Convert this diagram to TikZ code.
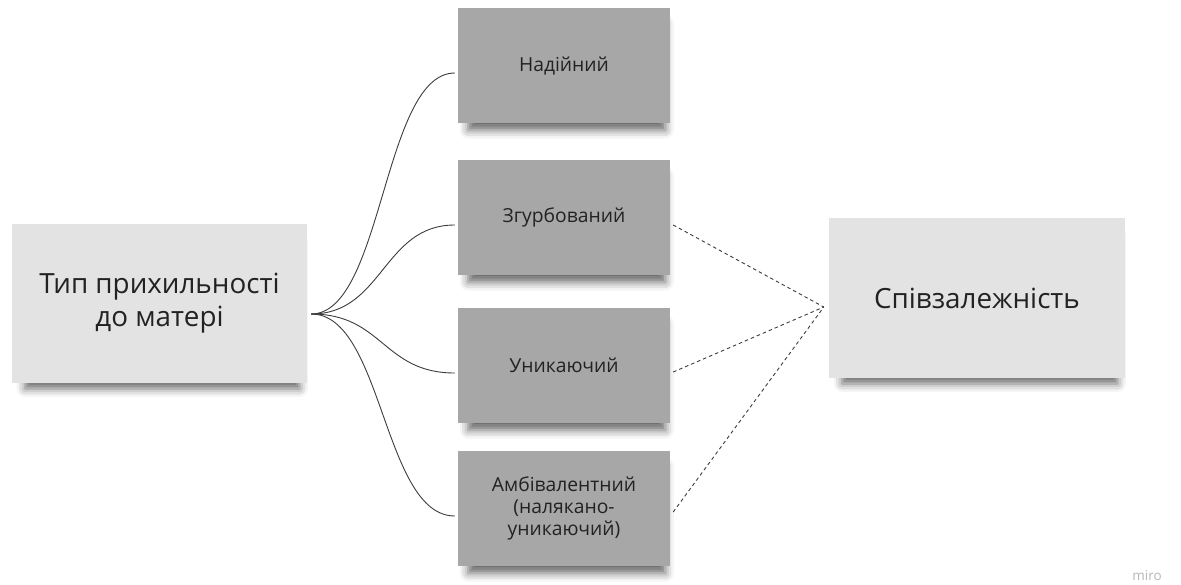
\documentclass[tikz,border=0pt]{standalone}
\usepackage{fontspec}
\setmainfont{Open Sans}
\usetikzlibrary{calc,shadows.blur}
\definecolor{boxlight}{HTML}{E3E3E3}
\definecolor{boxdark}{HTML}{A7A7A7}
\definecolor{textdark}{HTML}{222222}
\definecolor{linegray}{HTML}{3C3C3C}
\definecolor{mirogray}{HTML}{B8B8B8}
\begin{document}
\begin{tikzpicture}[x=1pt,y=-1pt,
  card/.style={rectangle, inner sep=0pt, align=center, text=textdark,
    blur shadow={shadow xshift=3pt, shadow yshift=-12pt, shadow blur radius=9pt, shadow opacity=60, shadow scale=0.93}},
  bigcard/.style={card, fill=boxlight, font=\fontsize{27.8}{33}\selectfont},
  smallcard/.style={card, fill=boxdark, minimum width=212pt, minimum height=115pt, font=\fontsize{19.3}{22}\selectfont},
  curve/.style={draw=linegray, line width=0.9pt},
  dashlink/.style={draw=linegray, line width=0.9pt, dash pattern=on 3.5pt off 3pt}
]
\useasboundingbox (0,0) rectangle (1181,584);

% main cards
\node[bigcard, minimum width=295pt, minimum height=159pt] (typ) at (159.5,303.5) {Тип прихильності\\до матері};
\node[bigcard, minimum width=296pt, minimum height=160pt] (spiv) at (977,298) {Співзалежність};

% middle cards
\node[smallcard] (nad) at (564,65.5) {Надійний};
\node[smallcard] (zgu) at (564,217.5) {Згурбований};
\node[smallcard] (unk) at (564,365.5) {Уникаючий};
\node[smallcard] (amb) at (564,508.5) {Амбівалентний\\(налякано-\\уникаючий)};

% hub of the curved connectors
\coordinate (hub) at ($(typ.east)+(4,10.5)$);

% curved connectors
\foreach \t in {nad,zgu,unk,amb}{
  \path let \p1=(hub), \p2=($(\t.west)+(-3,7.5)$) in
    [curve] (\p1) .. controls ({0.5*\x1+0.5*\x2},\y1) and ({0.5*\x1+0.5*\x2},\y2) .. (\p2);
}

% dashed connectors
\coordinate (meet) at ($(spiv.west)+(-5,9)$);
\draw[dashlink] ($(zgu.east)+(3,7.5)$) -- (meet);
\draw[dashlink] ($(unk.east)+(3,6.5)$) -- (meet);
\draw[dashlink] ($(amb.east)+(3,3.5)$) -- (meet);

% watermark
\node[text=mirogray, font=\fontsize{13.5}{15}\selectfont, inner sep=0pt] (miro) at (1147,576) {miro};
\end{tikzpicture}
\end{document}
